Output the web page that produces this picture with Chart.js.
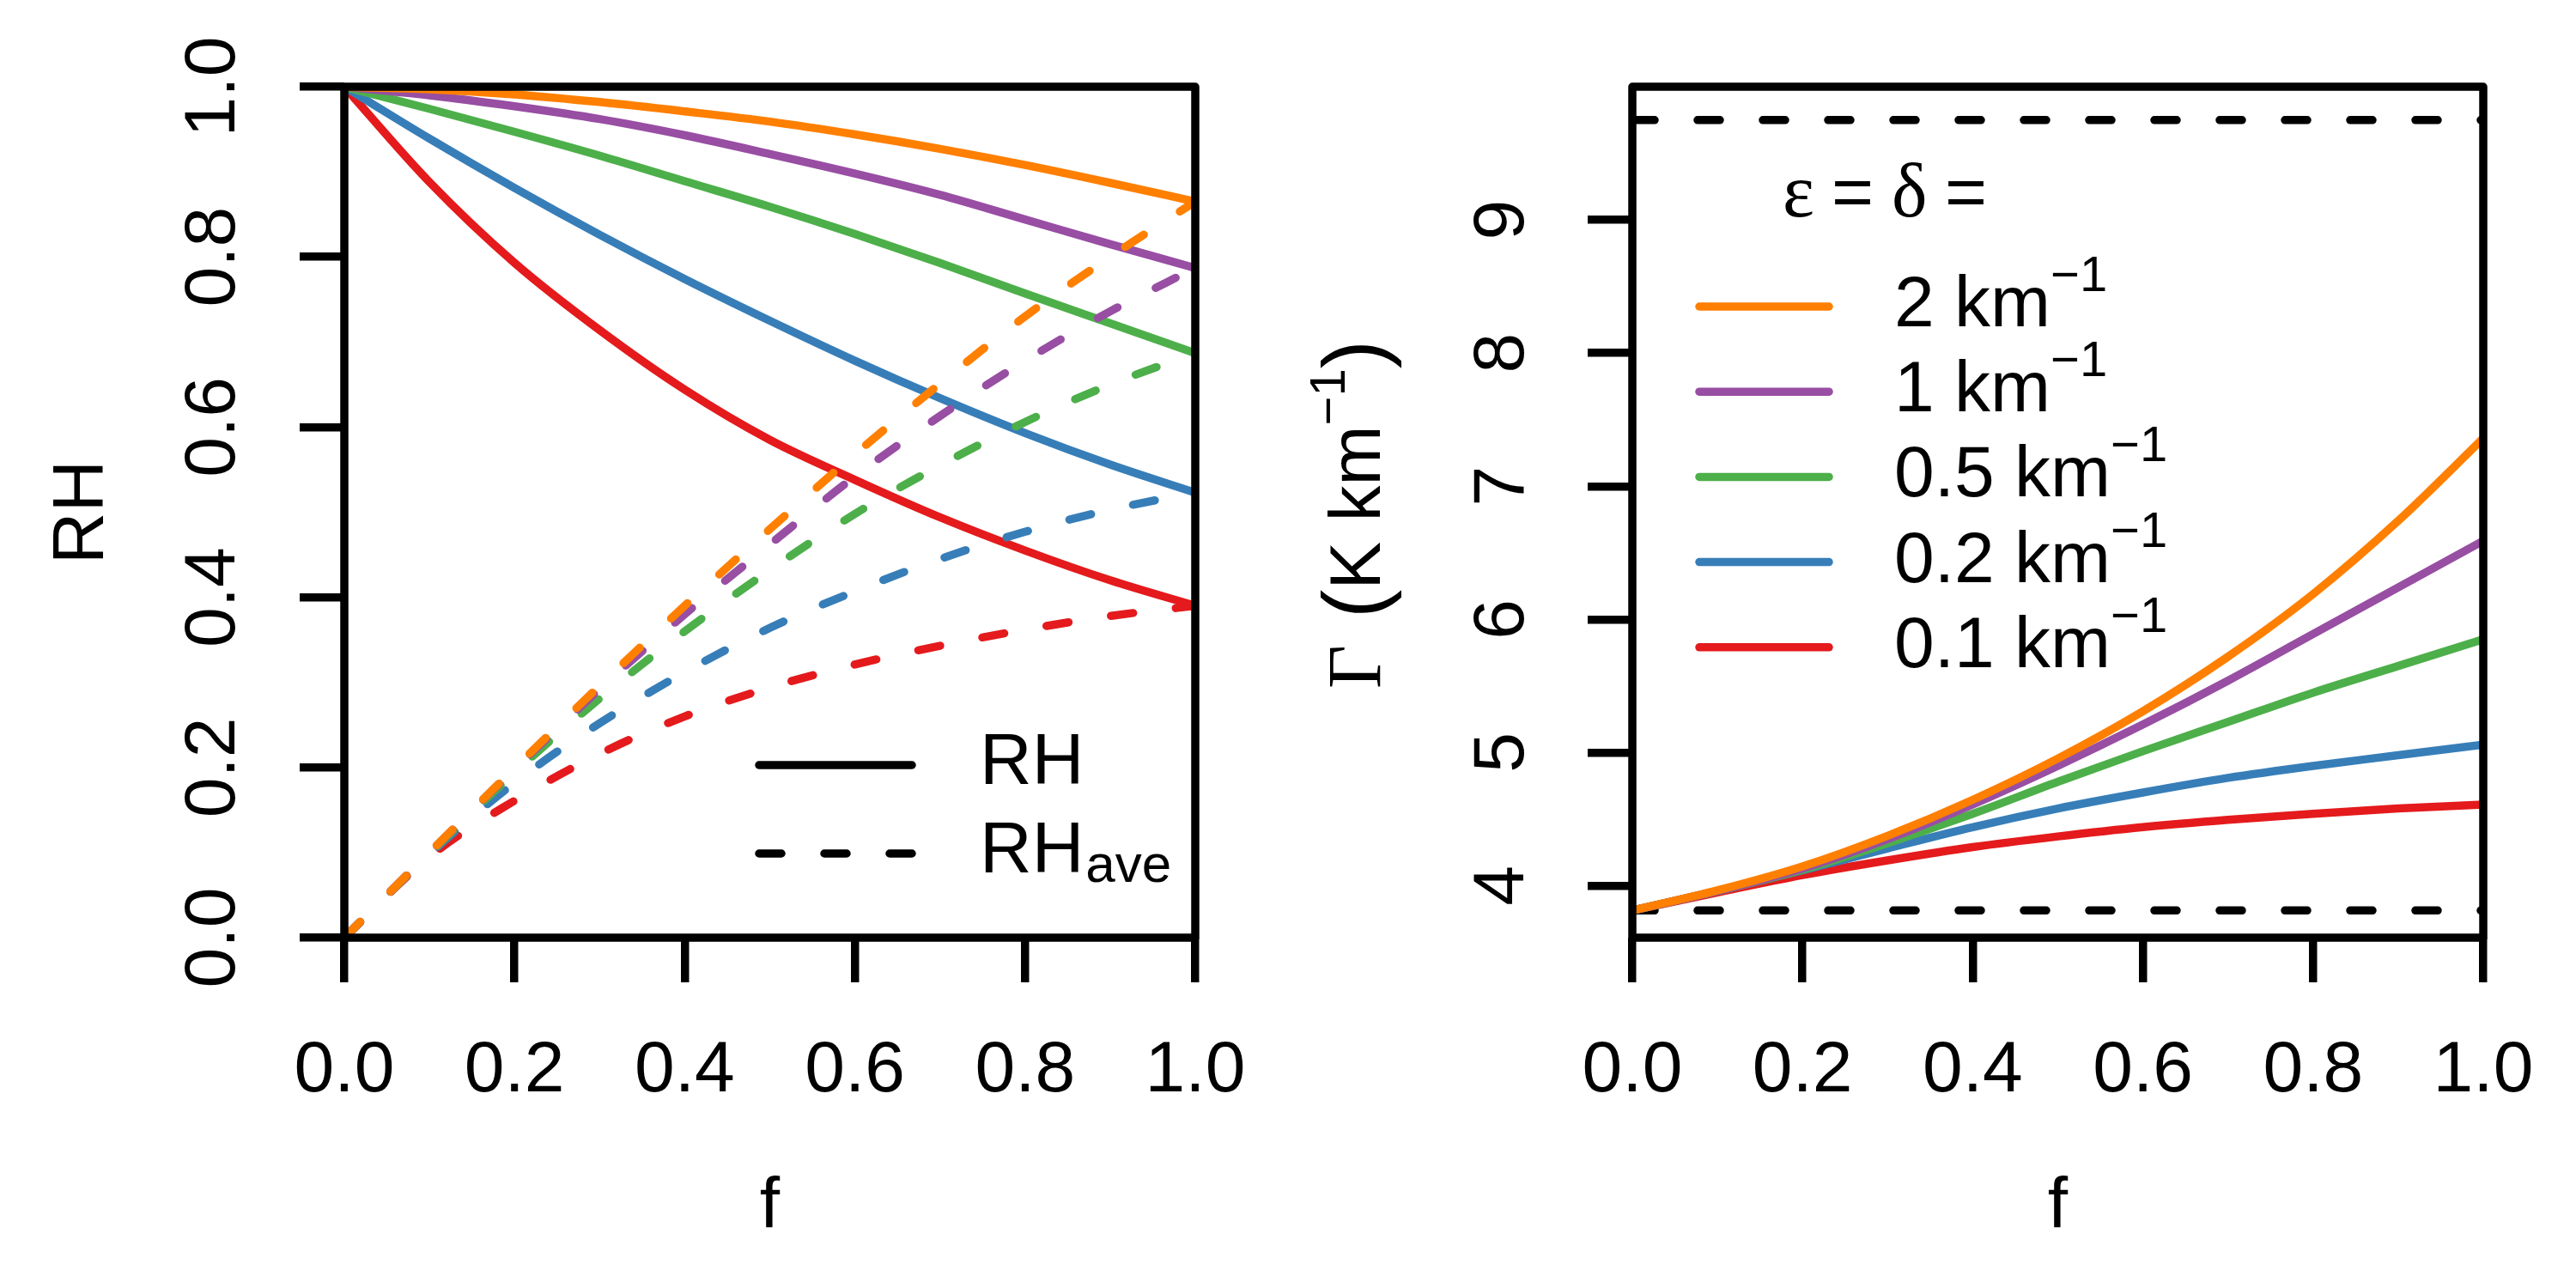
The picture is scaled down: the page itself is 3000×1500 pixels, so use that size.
<!DOCTYPE html>
<html>
<head>
<meta charset="utf-8">
<script src="https://cdn.jsdelivr.net/npm/chart.js@4.4.0/dist/chart.umd.min.js"></script>
<style>
  html, body { margin: 0; padding: 0; background: #fff; }
  #wrap { position: relative; width: 3000px; height: 1500px; }
  canvas { position: absolute; top: 0; width: 1500px; height: 1500px; }
  #rhChart { left: 0; }
  #lapseChart { left: 1500px; }
</style>
</head>
<body>
<div id="wrap">
  <canvas id="rhChart" width="1500" height="1500"></canvas>
  <canvas id="lapseChart" width="1500" height="1500"></canvas>
</div>
<script>
// Data
const fValues = [0, 0.1, 0.2, 0.3, 0.4, 0.5, 0.6, 0.7, 0.8, 0.9, 1.0];
const rateLabels = ["2", "1", "0.5", "0.2", "0.1"];
const rateColors = ["#FF7F00", "#984EA3", "#4DAF4A", "#377EB8", "#E41A1C"];

// RH, solid lines
const rh2  = [1.000, 0.997, 0.991, 0.982, 0.971, 0.959, 0.944, 0.927, 0.908, 0.887, 0.865];
const rh1  = [1.000, 0.990, 0.977, 0.962, 0.943, 0.921, 0.898, 0.873, 0.844, 0.815, 0.787];
const rh05 = [1.000, 0.974, 0.947, 0.919, 0.889, 0.859, 0.827, 0.793, 0.757, 0.722, 0.687];
const rh02 = [1.000, 0.939, 0.881, 0.826, 0.774, 0.725, 0.678, 0.634, 0.593, 0.556, 0.523];
const rh01 = [1.000, 0.888, 0.793, 0.714, 0.644, 0.585, 0.538, 0.494, 0.455, 0.420, 0.390];

// RH_ave, dashed lines
const rhAve2  = [0, 0.100, 0.199, 0.296, 0.390, 0.480, 0.568, 0.651, 0.730, 0.800, 0.865];
const rhAve1  = [0, 0.100, 0.198, 0.292, 0.380, 0.462, 0.542, 0.613, 0.678, 0.736, 0.787];
const rhAve05 = [0, 0.099, 0.194, 0.281, 0.360, 0.432, 0.498, 0.555, 0.606, 0.650, 0.687];
const rhAve02 = [0, 0.098, 0.182, 0.252, 0.312, 0.364, 0.407, 0.445, 0.477, 0.503, 0.523];
const rhAve01 = [0, 0.095, 0.161, 0.216, 0.260, 0.294, 0.321, 0.343, 0.362, 0.378, 0.390];

// Lapse rate Gamma (K/km)
const gamma2  = [3.814, 3.965, 4.145, 4.375, 4.645, 4.955, 5.310, 5.720, 6.190, 6.740, 7.360];
const gamma1  = [3.814, 3.960, 4.130, 4.350, 4.610, 4.900, 5.210, 5.540, 5.890, 6.240, 6.590];
const gamma05 = [3.814, 3.960, 4.120, 4.320, 4.540, 4.780, 5.010, 5.230, 5.450, 5.650, 5.850];
const gamma02 = [3.814, 3.960, 4.115, 4.280, 4.440, 4.580, 4.700, 4.810, 4.900, 4.980, 5.060];
const gamma01 = [3.814, 3.950, 4.080, 4.190, 4.290, 4.370, 4.440, 4.495, 4.540, 4.580, 4.610];
const refLapse = [9.75, 3.814];

// Ticks
const fTicks = [0, 0.2, 0.4, 0.6, 0.8, 1.0];
const rhTicks = [0, 0.2, 0.4, 0.6, 0.8, 1.0];
const gammaTicks = [4, 5, 6, 7, 8, 9];

const SANS = "'Liberation Sans', Arial, Helvetica, sans-serif";
const SERIF = "'Liberation Serif', 'Times New Roman', serif";
const LW = 9.5;
const DASH = [26, 50];
const FS = 84;

function toPoints(ys) {
    return fValues.map((f, i) => ({ x: f, y: ys[i] }));
}

function curve(ys, color, dashed) {
    return {
        data: toPoints(ys),
        borderColor: color,
        borderWidth: LW,
        borderDash: dashed ? DASH : [],
        borderCapStyle: "round",
        borderJoinStyle: "round",
        pointRadius: 0,
        cubicInterpolationMode: "monotone",
        fill: false
    };
}

function xScale() {
    return {
        type: "linear", min: 0, max: 1,
        afterBuildTicks: axis => { axis.ticks = fTicks.map(v => ({ value: v })); },
        afterFit: axis => {
            axis.height = 408;
            axis.paddingLeft = 0;
            axis.paddingRight = 0;
        },
        border: { display: false },
        grid: { drawOnChartArea: false, drawTicks: true, tickLength: 52, lineWidth: LW, color: "#000" },
        ticks: {
            color: "#000", font: { family: SANS, size: FS }, padding: 53,
            maxRotation: 0, autoSkip: false, callback: v => v.toFixed(1)
        },
        title: {
            display: true, text: "f", color: "#000",
            font: { family: SANS, size: FS }, padding: { top: 0, bottom: 43 }
        }
    };
}

function yScale(min, max, tickList, fmt, pad, title) {
    return {
        type: "linear", min: min, max: max,
        afterBuildTicks: axis => { axis.ticks = tickList.map(v => ({ value: v })); },
        afterFit: axis => {
            axis.width = 401;
            // keep the plot box the same in both panels
            axis.paddingTop = 0;
            axis.paddingBottom = 0;
        },
        border: { display: false },
        grid: { drawOnChartArea: false, drawTicks: true, tickLength: 52, lineWidth: LW, color: "#000" },
        ticks: {
            color: "#000", font: { family: SANS, size: FS }, padding: pad,
            minRotation: 90, maxRotation: 90, crossAlign: "center", autoSkip: false,
            callback: fmt
        },
        title: {
            display: !!title, text: title || "", color: "#000",
            font: { family: SANS, size: FS }, padding: { top: 46, bottom: 0 }
        }
    };
}

// Box around the plot region
const framePlugin = {
    id: "frame",
    afterDatasetsDraw(chart) {
        const { ctx, chartArea: a } = chart;
        ctx.save();
        ctx.strokeStyle = "#000";
        ctx.lineWidth = LW;
        ctx.lineJoin = "round";
        ctx.strokeRect(a.left, a.top, a.right - a.left, a.bottom - a.top);
        ctx.restore();
    }
};

function legendLine(ctx, x1, x2, y, color, dash) {
    ctx.save();
    ctx.strokeStyle = color;
    ctx.lineWidth = LW;
    ctx.lineCap = "round";
    ctx.setLineDash(dash);
    ctx.beginPath();
    ctx.moveTo(x1, y);
    ctx.lineTo(x2, y);
    ctx.stroke();
    ctx.restore();
}

// RH / RH_ave legend
const rhLegend = {
    id: "rhLegend",
    afterDraw(chart) {
        const ctx = chart.ctx;
        legendLine(ctx, 884, 1062, 891, "#000", []);
        legendLine(ctx, 884, 1062, 994, "#000", DASH);
        ctx.save();
        ctx.fillStyle = "#000";
        ctx.textBaseline = "alphabetic";
        ctx.font = `${FS}px ${SANS}`;
        ctx.fillText("RH", 1141, 913);
        ctx.fillText("RH", 1141, 1016);
        const w = ctx.measureText("RH").width;
        ctx.font = `62px ${SANS}`;
        ctx.fillText("ave", 1141 + w + 2, 1027);
        ctx.restore();
    }
};

// epsilon = delta legend + Gamma axis title
const lapseLegend = {
    id: "lapseLegend",
    afterDraw(chart) {
        const ctx = chart.ctx;
        ctx.save();
        ctx.fillStyle = "#000";
        ctx.textBaseline = "alphabetic";
        ctx.font = `88px ${SERIF}`;
        ctx.fillText("\u03B5", 576, 252);
        ctx.fillText("\u03B4", 703, 252);
        ctx.font = `${FS}px ${SANS}`;
        ctx.fillText("=", 633, 252);
        ctx.fillText("=", 765, 252);

        rateLabels.forEach((lab, i) => {
            const y = 357 + i * 99.2;
            legendLine(ctx, 479, 630, y, rateColors[i], []);
            ctx.font = `${FS}px ${SANS}`;
            const txt = lab + " km";
            ctx.fillText(txt, 706, y + 23);
            const w = ctx.measureText(txt).width;
            ctx.font = `58px ${SANS}`;
            ctx.fillText("\u22121", 706 + w, y - 18);
        });

        // rotated axis title: Gamma (K km^-1)
        ctx.translate(107, 599);
        ctx.rotate(-Math.PI / 2);
        const parts = [
            { t: "\u0393", font: `88px ${SERIF}`, dy: 0, gap: 31 },
            { t: "(", font: `100px ${SANS}`, dy: 4, gap: 0 },
            { t: "K km", font: `${FS}px ${SANS}`, dy: 0, gap: 0 },
            { t: "\u22121", font: `58px ${SANS}`, dy: -41, gap: 0 },
            { t: ")", font: `100px ${SANS}`, dy: 4, gap: 0 }
        ];
        let total = 0;
        parts.forEach(p => {
            ctx.font = p.font;
            p.w = ctx.measureText(p.t).width;
            total += p.w + p.gap;
        });
        let x = -total / 2;
        parts.forEach(p => {
            ctx.font = p.font;
            ctx.fillText(p.t, x, p.dy);
            x += p.w + p.gap;
        });
        ctx.restore();
    }
};

const baseOptions = {
    responsive: false,
    animation: false,
    devicePixelRatio: 1,
    events: [],
    layout: { padding: { left: 0, top: 101, right: 108, bottom: 0 } },
    plugins: { legend: { display: false }, tooltip: { enabled: false } }
};

// Left panel: RH vs f
const rhSolid = [rh2, rh1, rh05, rh02, rh01];
const rhDashed = [rhAve2, rhAve1, rhAve05, rhAve02, rhAve01];
const rhDatasets = [];
rateColors.forEach((c, i) => {
    rhDatasets.push(curve(rhDashed[i], c, true));
    rhDatasets.push(curve(rhSolid[i], c, false));
});

new Chart(document.getElementById("rhChart"), {
    type: "line",
    data: { datasets: rhDatasets },
    options: Object.assign({}, baseOptions, {
        scales: {
            x: xScale(),
            y: yScale(0, 1, rhTicks, v => v.toFixed(1), 41, "RH")
        }
    }),
    plugins: [framePlugin, rhLegend]
});

// Right panel: Gamma vs f
const gammaSeries = [gamma2, gamma1, gamma05, gamma02, gamma01];
const lapseDatasets = gammaSeries.map((g, i) => curve(g, rateColors[i], false));
refLapse.forEach(v => {
    lapseDatasets.push(curve(fValues.map(() => v), "#000", true));
});

new Chart(document.getElementById("lapseChart"), {
    type: "line",
    data: { datasets: lapseDatasets },
    options: Object.assign({}, baseOptions, {
        scales: {
            x: xScale(),
            y: yScale(3.61, 10.0, gammaTicks, v => String(v), 75, null)
        }
    }),
    plugins: [framePlugin, lapseLegend]
});
</script>
</body>
</html>
